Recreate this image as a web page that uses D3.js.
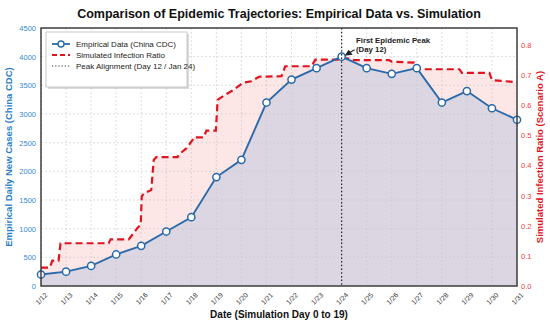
<!DOCTYPE html>
<html><head><meta charset="utf-8">
<script src="https://cdn.jsdelivr.net/npm/d3@7"></script>
<style>body{margin:0;background:#fff;font-family:"Liberation Sans",Arial,sans-serif;}</style>
</head><body><svg id="c" width="550" height="324"></svg>
<script>
const dates = ["1/12","1/13","1/14","1/15","1/16","1/17","1/18","1/19","1/20","1/21","1/22","1/23","1/24","1/25","1/26","1/27","1/28","1/29","1/30","1/31"];
const empirical = [200,250,350,550,700,950,1200,1900,2200,3200,3600,3800,4000,3800,3700,3800,3200,3400,3100,2900];
const simDays = [0,0.35,0.45,0.7,0.78,2.7,2.78,3.5,3.6,3.85,3.98,4.02,4.1,4.4,4.5,4.6,5.45,5.55,5.8,6.05,6.1,6.5,6.6,6.98,7.05,7.35,7.68,7.95,8.05,8.4,8.7,9.6,9.75,10.8,10.95,11.9,12.0,12.4,12.5,13.9,14.0,14.9,15.0,16.7,16.8,17.9,18.0,19.0];
const simValues = [0.061,0.061,0.084,0.084,0.142,0.142,0.155,0.155,0.165,0.193,0.203,0.297,0.308,0.319,0.419,0.428,0.428,0.44,0.457,0.485,0.494,0.494,0.516,0.516,0.618,0.635,0.651,0.668,0.675,0.68,0.695,0.697,0.73,0.73,0.752,0.752,0.758,0.755,0.75,0.75,0.745,0.742,0.72,0.72,0.708,0.708,0.684,0.677];
const leftTicks = [0,500,1000,1500,2000,2500,3000,3500,4000,4500];
const rightTicks = [0,0.1,0.2,0.3,0.4,0.5,0.6,0.7,0.8];
const peakDay = 12;

const svg = d3.select("#c");
const m = {l:41, r:517, t:28, b:286};
const x = d3.scaleLinear().domain([0,19]).range([m.l,m.r]);
const yL = d3.scaleLinear().domain([0,4500]).range([m.b,m.t]);
const yR = d3.scaleLinear().domain([0,0.857]).range([m.b,m.t]);
const sim = simDays.map((d,i)=>[d,simValues[i]]);
const emp = empirical.map((v,i)=>[i,v]);

// areas
svg.append("path").datum(sim).attr("fill","#fce6e6")
  .attr("d", d3.area().x(d=>x(d[0])).y0(m.b).y1(d=>yR(d[1])));
svg.append("path").datum(emp).attr("fill","#dbd6e1")
  .attr("d", d3.area().x(d=>x(d[0])).y0(m.b).y1(d=>yL(d[1])));

// grid
const g = svg.append("g");
dates.forEach((d,i)=>g.append("line").attr("x1",x(i)).attr("x2",x(i)).attr("y1",m.t).attr("y2",m.b)
  .attr("stroke","#c8c8c8").attr("stroke-width",0.6).attr("stroke-dasharray","2,2"));
leftTicks.forEach(t=>g.append("line").attr("x1",m.l).attr("x2",m.r).attr("y1",yL(t)).attr("y2",yL(t))
  .attr("stroke","#c8c8c8").attr("stroke-width",0.6).attr("stroke-dasharray","2,2"));

// sim line
svg.append("path").datum(sim).attr("fill","none").attr("stroke","#e0141e").attr("stroke-width",2.2)
  .attr("stroke-dasharray","7,4")
  .attr("d", d3.line().x(d=>x(d[0])).y(d=>yR(d[1])));
// empirical line
svg.append("path").datum(emp).attr("fill","none").attr("stroke","#2a6aaa").attr("stroke-width",1.9)
  .attr("d", d3.line().x(d=>x(d[0])).y(d=>yL(d[1])));
svg.selectAll("circle.e").data(emp).enter().append("circle").attr("cx",d=>x(d[0])).attr("cy",d=>yL(d[1]))
  .attr("r",3.6).attr("fill","#fff").attr("stroke","#2a6aaa").attr("stroke-width",1.5);

// peak line
svg.append("line").attr("x1",x(peakDay)).attr("x2",x(peakDay)).attr("y1",m.t).attr("y2",m.b)
  .attr("stroke","#222").attr("stroke-width",1.2).attr("stroke-dasharray","1.5,2.2");

// frame
svg.append("rect").attr("x",m.l).attr("y",m.t).attr("width",m.r-m.l).attr("height",m.b-m.t)
  .attr("fill","none").attr("stroke","#333").attr("stroke-width",1.4);

// axes
const axL = svg.append("g").attr("transform",`translate(${m.l},0)`)
  .call(d3.axisLeft(yL).tickValues(leftTicks).tickFormat(d3.format("d")).tickSize(0).tickPadding(5));
axL.select(".domain").remove();
axL.selectAll("text").attr("fill","#3a8ad0").style("font-size","7.5px").style("font-family","Liberation Sans, Arial");
const axR = svg.append("g").attr("transform",`translate(${m.r},0)`)
  .call(d3.axisRight(yR).tickValues(rightTicks).tickFormat(d3.format(".1f")).tickSize(0).tickPadding(4));
axR.select(".domain").remove();
axR.selectAll("text").attr("fill","#e8433c").style("font-size","7.5px").style("font-family","Liberation Sans, Arial");
const axB = svg.append("g").attr("transform",`translate(0,${m.b})`)
  .call(d3.axisBottom(x).tickValues(d3.range(dates.length)).tickFormat(i=>dates[i]).tickSize(0).tickPadding(4));
axB.select(".domain").remove();
axB.selectAll("text").attr("fill","#333").style("font-size","7px").style("font-family","Liberation Sans, Arial")
  .attr("text-anchor","end").attr("dy","0.35em").attr("transform","translate(2,5) rotate(-45)");

// titles
svg.append("text").attr("x",279).attr("y",18).attr("text-anchor","middle").attr("font-weight","bold")
  .style("font-size","12.5px").attr("fill","#111").text("Comparison of Epidemic Trajectories: Empirical Data vs. Simulation");
svg.append("text").attr("x",279).attr("y",318).attr("text-anchor","middle").attr("font-weight","bold")
  .style("font-size","10px").attr("fill","#111").text("Date (Simulation Day 0 to 19)");
svg.append("text").attr("transform","translate(12,157) rotate(-90)").attr("text-anchor","middle").attr("font-weight","bold")
  .style("font-size","9.5px").attr("fill","#2a7fc8").text("Empirical Daily New Cases (China CDC)");
svg.append("text").attr("transform","translate(543,157) rotate(-90)").attr("text-anchor","middle").attr("font-weight","bold")
  .style("font-size","9.5px").attr("fill","#e0141e").text("Simulated Infection Ratio (Scenario A)");

// annotation
const ann = svg.append("g");
ann.append("text").attr("x",356).attr("y",43).attr("font-weight","bold").style("font-size","7.8px").attr("fill","#222").text("First Epidemic Peak");
ann.append("text").attr("x",356).attr("y",52).attr("font-weight","bold").style("font-size","7.8px").attr("fill","#222").text("(Day 12)");
const px = x(peakDay)+3, py = yL(4000)-1;
ann.append("line").attr("x1",px+10).attr("y1",py-6).attr("x2",px+3).attr("y2",py-2).attr("stroke","#222").attr("stroke-width",1.2);
ann.append("path").attr("d",`M${px},${py} L${px+4},${py-6} L${px+8},${py-1} Z`).attr("fill","#222");

// legend
const lg = svg.append("g");
lg.append("rect").attr("x",48).attr("y",34).attr("width",141).attr("height",55).attr("fill","#999").attr("opacity",0.35);
lg.append("rect").attr("x",46).attr("y",32).attr("width",141).attr("height",55).attr("fill","#fff").attr("stroke","#bbb").attr("stroke-width",0.8);
const items = [
  {t:"Empirical Data (China CDC)", c:"#2a6aaa", dash:null, w:1.8, mk:true},
  {t:"Simulated Infection Ratio", c:"#e0141e", dash:"5,3", w:2.2, mk:false},
  {t:"Peak Alignment (Day 12 / Jan 24)", c:"#333", dash:"1.2,2", w:1.1, mk:false}
];
items.forEach((it,i)=>{
  const yy = 44+i*11;
  lg.append("line").attr("x1",52).attr("x2",70).attr("y1",yy).attr("y2",yy).attr("stroke",it.c).attr("stroke-width",it.w)
    .attr("stroke-dasharray",it.dash);
  if(it.mk) lg.append("circle").attr("cx",61).attr("cy",yy).attr("r",3).attr("fill","#fff").attr("stroke",it.c).attr("stroke-width",1.4);
  lg.append("text").attr("x",76).attr("y",yy+3).style("font-size","8px").attr("fill","#222").text(it.t);
});
</script></body></html>
